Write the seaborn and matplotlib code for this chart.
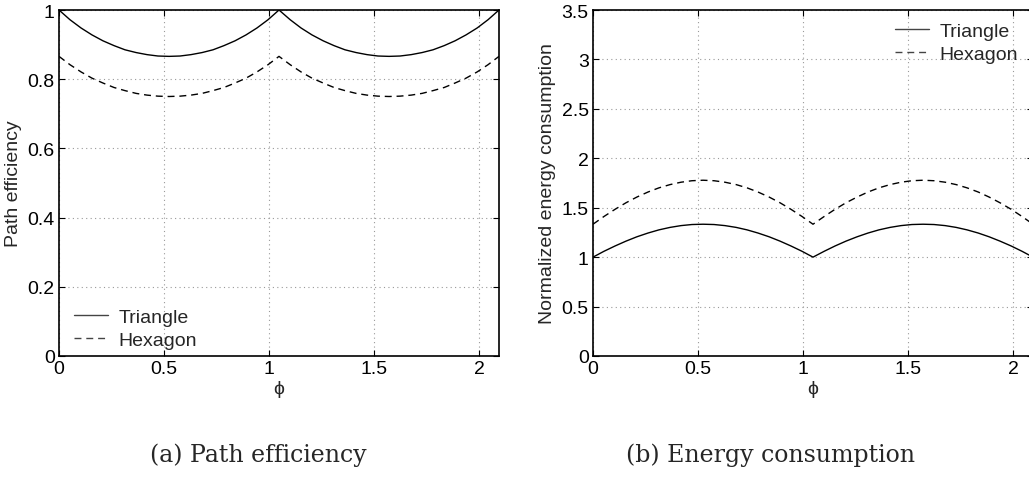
import matplotlib
matplotlib.use("Agg")
import matplotlib.pyplot as plt
import seaborn as sns
import pandas as pd

phi = [0.000, 0.052, 0.105, 0.157, 0.209, 0.262, 0.314, 0.367, 0.419, 0.471,
       0.524, 0.576, 0.628, 0.681, 0.733, 0.785, 0.838, 0.890, 0.942, 0.995,
       1.047, 1.100, 1.152, 1.204, 1.257, 1.309, 1.361, 1.414, 1.466, 1.518,
       1.571, 1.623, 1.676, 1.728, 1.780, 1.833, 1.885, 1.937, 1.990, 2.042, 2.094]

eff_triangle = [1.000, 0.972, 0.948, 0.928, 0.911, 0.897, 0.885, 0.877, 0.871, 0.867,
                0.866, 0.867, 0.871, 0.877, 0.885, 0.897, 0.911, 0.928, 0.948, 0.972,
                1.000, 0.972, 0.948, 0.928, 0.911, 0.897, 0.885, 0.877, 0.871, 0.867,
                0.866, 0.867, 0.871, 0.877, 0.885, 0.897, 0.911, 0.928, 0.948, 0.972, 1.000]

eff_hexagon = [0.866, 0.842, 0.821, 0.803, 0.789, 0.776, 0.767, 0.759, 0.754, 0.751,
               0.750, 0.751, 0.754, 0.759, 0.767, 0.776, 0.789, 0.803, 0.821, 0.842,
               0.866, 0.842, 0.821, 0.803, 0.789, 0.776, 0.767, 0.759, 0.754, 0.751,
               0.750, 0.751, 0.754, 0.759, 0.767, 0.776, 0.789, 0.803, 0.821, 0.842, 0.866]

energy_triangle = [1.000, 1.059, 1.113, 1.162, 1.206, 1.244, 1.276, 1.301, 1.319, 1.330,
                   1.333, 1.330, 1.319, 1.301, 1.276, 1.244, 1.206, 1.162, 1.113, 1.059,
                   1.000, 1.059, 1.113, 1.162, 1.206, 1.244, 1.276, 1.301, 1.319, 1.330,
                   1.333, 1.330, 1.319, 1.301, 1.276, 1.244, 1.206, 1.162, 1.113, 1.059, 1.000]

energy_hexagon = [1.333, 1.411, 1.484, 1.550, 1.608, 1.659, 1.701, 1.734, 1.758, 1.773,
                  1.778, 1.773, 1.758, 1.734, 1.701, 1.659, 1.608, 1.550, 1.484, 1.411,
                  1.333, 1.411, 1.484, 1.550, 1.608, 1.659, 1.701, 1.734, 1.758, 1.773,
                  1.778, 1.773, 1.758, 1.734, 1.701, 1.659, 1.608, 1.550, 1.484, 1.411, 1.333]

shapes = ["Triangle", "Hexagon"]
x_ticks = [0, 0.5, 1, 1.5, 2]
x_tick_labels = ["0", "0.5", "1", "1.5", "2"]
y_ticks_a = [0, 0.2, 0.4, 0.6, 0.8, 1]
y_tick_labels_a = ["0", "0.2", "0.4", "0.6", "0.8", "1"]
y_ticks_b = [0, 0.5, 1, 1.5, 2, 2.5, 3, 3.5]
y_tick_labels_b = ["0", "0.5", "1", "1.5", "2", "2.5", "3", "3.5"]

df = pd.DataFrame({
    "phi": phi * 2,
    "shape": [shapes[0]] * len(phi) + [shapes[1]] * len(phi),
    "eff": eff_triangle + eff_hexagon,
    "energy": energy_triangle + energy_hexagon,
})

sns.set_style("ticks")
plt.rcParams["font.family"] = ["Liberation Sans", "DejaVu Sans"]

W, H = 1029, 481
fig = plt.figure(figsize=(W / 100, H / 100), dpi=100)

def px_axes(l, t, r, b):
    return fig.add_axes([l / W, 1 - b / H, (r - l) / W, (b - t) / H])

axA = px_axes(59, 11, 499, 357)
axB = px_axes(593, 11, 1033, 357)

dashes = {"Triangle": "", "Hexagon": (5, 3.5)}

for ax, ycol, yt, ytl, ymax, ylab, legloc, anchor in [
    (axA, "eff", y_ticks_a, y_tick_labels_a, 1.0, "Path efficiency", "lower left",
     (-0.01, -0.035)),
    (axB, "energy", y_ticks_b, y_tick_labels_b, 3.5, "Normalized energy consumption", "upper right",
     (1.01, 1.02)),
]:
    sns.lineplot(data=df, x="phi", y=ycol, style="shape", style_order=shapes,
                 dashes=dashes, color="black", linewidth=1.0, ax=ax)
    ax.set_xlim(0, phi[-1])
    ax.set_ylim(0, ymax)
    ax.set_xticks(x_ticks)
    ax.set_xticklabels(x_tick_labels)
    ax.set_yticks(yt)
    ax.set_yticklabels(ytl)
    ax.grid(True, linestyle=(0, (1, 3)), color="#999999", linewidth=0.8)
    ax.tick_params(direction="in", length=4, width=0.8, labelsize=14, pad=3,
                   colors="black", top=True, right=True)
    for s in ax.spines.values():
        s.set_linewidth(1.2)
        s.set_color("black")
    ax.set_xlabel("ϕ", fontsize=14, labelpad=2)
    ax.set_ylabel(ylab, fontsize=14, labelpad=4)
    leg = ax.legend(loc=legloc, bbox_to_anchor=anchor, frameon=False, fontsize=14,
                    handlelength=1.75, handletextpad=0.55, labelspacing=0.25,
                    borderaxespad=0.6)
    for h in leg.get_lines():
        h.set_color("#444444")

fig.text(258 / W, 1 - 455 / H, "(a) Path efficiency", fontsize=17,
         family=["DejaVu Serif"], ha="center", va="center")
fig.text(770 / W, 1 - 455 / H, "(b) Energy consumption", fontsize=17,
         family=["DejaVu Serif"], ha="center", va="center")

fig.savefig("out.png", dpi=100)
